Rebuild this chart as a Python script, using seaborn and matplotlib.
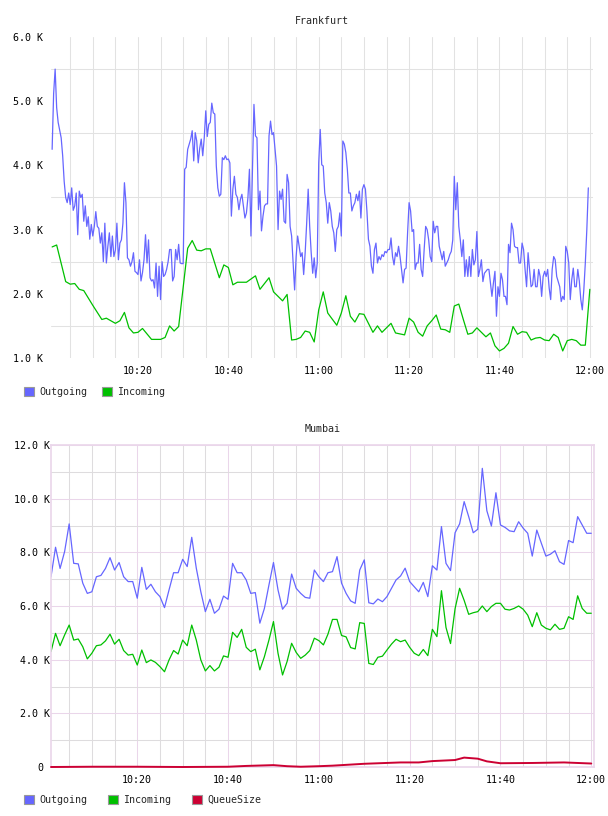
import pandas as pd
import matplotlib
matplotlib.use("Agg")
import matplotlib.pyplot as plt
import matplotlib.dates as mdates
import matplotlib.patches as mpatches
from matplotlib.ticker import FixedLocator, FuncFormatter
import seaborn as sns

# Values in thousands (K)
# Frankfurt outgoing: one sample every 20 s starting 10:01:00
fra_out = [
    4.25, 5.12, 5.50, 4.90, 4.67, 4.55, 4.43, 4.15, 3.75, 3.50,
    3.42, 3.57, 3.39, 3.65, 3.30, 3.37, 3.57, 2.92, 3.60, 3.50,
    3.55, 3.13, 3.37, 3.05, 3.20, 2.85, 3.08, 2.90, 3.05, 3.28,
    3.05, 3.02, 2.79, 2.95, 2.50, 3.10, 2.48, 2.74, 2.95, 2.58,
    2.90, 2.58, 2.68, 3.10, 2.53, 2.79, 2.84, 3.10, 3.73, 3.42,
    2.56, 2.53, 2.43, 2.50, 2.64, 2.35, 2.33, 2.30, 2.53, 2.20,
    2.33, 2.53, 2.92, 2.48, 2.84, 2.25, 2.20, 2.22, 2.09, 2.48,
    1.96, 2.43, 1.91, 2.50, 2.27, 2.30, 2.38, 2.50, 2.69, 2.69,
    2.20, 2.27, 2.69, 2.53, 2.77, 2.48, 2.47, 2.47, 3.94, 3.97,
    4.25, 4.33, 4.41, 4.54, 4.07, 4.51, 4.38, 4.04, 4.27, 4.41,
    4.15, 4.43, 4.85, 4.45, 4.64, 4.67, 4.97, 4.82, 4.80, 3.99,
    3.65, 3.52, 3.55, 4.12, 4.09, 4.15, 4.09, 4.10, 4.04, 3.21,
    3.63, 3.83, 3.55, 3.50, 3.31, 3.47, 3.55, 3.37, 3.18, 3.26,
    3.50, 3.94, 2.90, 3.90, 4.95, 4.46, 4.43, 3.31, 3.60, 2.98,
    3.21, 3.37, 3.40, 3.40, 4.46, 4.69, 4.48, 4.51, 4.25, 3.99,
    3.00, 3.60, 3.47, 3.63, 3.13, 3.10, 3.86, 3.73, 3.05, 2.90,
    2.48, 2.06, 2.58, 2.90, 2.74, 2.58, 2.64, 2.30, 2.64, 3.10,
    3.63, 3.05, 2.64, 2.32, 2.56, 2.25, 2.48, 4.04, 4.56, 4.01,
    3.99, 3.57, 3.42, 3.10, 3.42, 3.29, 3.05, 2.95, 2.66, 3.00,
    3.05, 3.26, 2.90, 4.38, 4.33, 4.20, 3.94, 3.57, 3.57, 3.29,
    3.37, 3.42, 3.55, 3.45, 3.60, 3.18, 3.63, 3.70, 3.63, 3.29,
    2.85, 2.74, 2.43, 2.32, 2.69, 2.79, 2.48, 2.58, 2.53, 2.61,
    2.58, 2.66, 2.64, 2.69, 2.69, 2.87, 2.58, 2.45, 2.64, 2.58,
    2.74, 2.58, 2.38, 2.17, 2.38, 2.40, 2.95, 3.42, 3.29, 2.97,
    3.00, 2.38, 2.48, 2.48, 2.77, 2.38, 2.27, 2.69, 3.05, 3.00,
    2.84, 2.58, 2.50, 3.13, 2.95, 3.05, 3.05, 2.74, 2.64, 2.53,
    2.66, 2.43, 2.48, 2.53, 2.61, 2.66, 2.84, 3.83, 3.31, 3.73,
    3.05, 2.84, 2.58, 2.84, 2.27, 2.53, 2.27, 2.58, 2.27, 2.69,
    2.45, 2.53, 2.97, 2.27, 2.38, 2.53, 2.19, 2.32, 2.35, 2.38,
    2.38, 2.17, 1.96, 2.17, 2.35, 1.65, 2.11, 1.96, 2.32, 2.22,
    1.96, 1.96, 1.83, 2.77, 2.64, 3.10, 3.00, 2.74, 2.72, 2.72,
    2.48, 2.48, 2.79, 2.69, 2.38, 2.11, 2.64, 2.38, 2.11, 2.14,
    2.38, 2.11, 2.11, 2.38, 2.27, 1.96, 2.27, 2.35, 2.27, 2.38,
    2.09, 1.91, 2.38, 2.58, 2.53, 2.27, 2.19, 2.11, 1.88, 1.96,
    1.91, 2.74, 2.66, 2.48, 1.91, 2.22, 2.40, 2.11, 2.11, 2.38,
    2.20, 1.91, 1.75, 2.06, 2.48, 3.00, 3.65,
]

# Frankfurt incoming: minutes after 10:00 and value
fra_in_min = [1, 2, 4, 5, 6, 7, 8, 10, 12, 13, 15, 16, 17, 18, 19, 20, 21, 23, 25, 26,
              27, 28, 29, 31, 32, 33, 34, 35, 36, 38, 39, 40, 41, 42, 44, 46, 47, 49, 50, 52,
              53, 54, 55, 56, 57, 58, 59, 60, 61, 62, 64, 65, 66, 67, 68, 69, 70, 72, 73, 74,
              76, 77, 79, 80, 81, 82, 83, 84, 85, 86, 87, 88, 89, 90, 91, 92, 93, 94, 95, 96,
              97, 98, 99, 100, 101, 102, 103, 104, 105, 106, 107, 108, 109, 110, 111, 112, 113,
              114, 115, 116, 117, 118, 119, 120]
fra_in = [2.73, 2.76, 2.19, 2.15, 2.16, 2.07, 2.05, 1.82, 1.60, 1.62, 1.54, 1.58, 1.71, 1.47,
          1.39, 1.40, 1.46, 1.29, 1.29, 1.32, 1.50, 1.42, 1.49, 2.71, 2.83, 2.68, 2.67, 2.70,
          2.70, 2.25, 2.45, 2.41, 2.14, 2.18, 2.18, 2.28, 2.07, 2.25, 2.03, 1.89, 1.99, 1.28,
          1.29, 1.32, 1.42, 1.40, 1.25, 1.75, 2.03, 1.70, 1.51, 1.70, 1.97, 1.65, 1.56, 1.69,
          1.68, 1.40, 1.50, 1.40, 1.54, 1.39, 1.36, 1.62, 1.56, 1.40, 1.34, 1.50, 1.58, 1.67,
          1.45, 1.44, 1.40, 1.81, 1.84, 1.60, 1.37, 1.39, 1.47, 1.40, 1.33, 1.39, 1.19, 1.11,
          1.15, 1.23, 1.49, 1.37, 1.41, 1.40, 1.28, 1.31, 1.32, 1.28, 1.27, 1.37, 1.32, 1.11,
          1.27, 1.29, 1.27, 1.20, 1.20, 2.07]

# Mumbai: one sample per minute from 10:01 to 12:00
mum_out = [
    7.09, 8.19, 7.40, 8.03, 9.06, 7.59, 7.57, 6.85, 6.47, 6.53,
    7.09, 7.14, 7.40, 7.80, 7.34, 7.62, 7.09, 6.91, 6.91, 6.29,
    7.44, 6.62, 6.81, 6.53, 6.35, 5.94, 6.60, 7.24, 7.24, 7.74,
    7.47, 8.56, 7.41, 6.53, 5.79, 6.25, 5.73, 5.88, 6.37, 6.25,
    7.59, 7.24, 7.24, 6.97, 6.47, 6.50, 5.36, 5.91, 6.78, 7.62,
    6.60, 5.88, 6.10, 7.19, 6.66, 6.47, 6.32, 6.29, 7.34, 7.09,
    6.91, 7.24, 7.28, 7.84, 6.85, 6.47, 6.19, 6.10, 7.34, 7.72,
    6.12, 6.08, 6.26, 6.16, 6.35, 6.66, 6.97, 7.12, 7.41, 6.91,
    6.72, 6.53, 6.88, 6.35, 7.50, 7.34, 8.96, 7.59, 7.32, 8.73,
    9.06, 9.89, 9.33, 8.73, 8.86, 11.13, 9.55, 8.98, 10.22, 9.02,
    8.93, 8.80, 8.77, 9.14, 8.90, 8.71, 7.86, 8.83, 8.34, 7.86,
    7.93, 8.06, 7.65, 7.55, 8.44, 8.36, 9.33, 9.02, 8.71, 8.71,
]
mum_in = [
    4.30, 4.98, 4.52, 4.92, 5.29, 4.73, 4.77, 4.48, 4.03, 4.24,
    4.52, 4.55, 4.70, 4.95, 4.58, 4.76, 4.34, 4.17, 4.20, 3.80,
    4.36, 3.89, 3.99, 3.90, 3.74, 3.55, 3.99, 4.34, 4.21, 4.73,
    4.52, 5.29, 4.73, 3.99, 3.58, 3.78, 3.58, 3.72, 4.14, 4.09,
    5.02, 4.83, 5.13, 4.46, 4.30, 4.39, 3.62, 4.11, 4.73, 5.42,
    4.24, 3.43, 3.93, 4.61, 4.27, 4.05, 4.17, 4.34, 4.80, 4.71,
    4.55, 4.95, 5.50, 5.50, 4.90, 4.85, 4.45, 4.40, 5.38, 5.35,
    3.86, 3.82, 4.09, 4.13, 4.36, 4.58, 4.76, 4.67, 4.73, 4.46,
    4.24, 4.15, 4.38, 4.15, 5.13, 4.86, 6.57, 5.20, 4.60, 5.90,
    6.66, 6.21, 5.69, 5.75, 5.79, 6.00, 5.79, 5.98, 6.10, 6.10,
    5.88, 5.85, 5.91, 6.00, 5.88, 5.66, 5.23, 5.75, 5.29, 5.17,
    5.11, 5.32, 5.13, 5.17, 5.60, 5.50, 6.38, 5.91, 5.73, 5.73,
]
mum_q_min = [1, 10, 20, 30, 40, 44, 50, 53, 56, 60, 63, 70, 78, 82, 85, 90, 92, 95, 97,
             100, 107, 114, 120]
mum_q = [0.0, 0.01, 0.01, 0.0, 0.01, 0.04, 0.07, 0.03, 0.01, 0.03, 0.05, 0.12, 0.17, 0.17,
         0.22, 0.26, 0.35, 0.31, 0.21, 0.14, 0.15, 0.17, 0.13]

BLUE = "#6666ff"
GREEN = "#00c000"
RED = "#cc0033"
GREY_GRID = "#e2e2e2"
PINK_GRID = "#ead6ea"
MINOR_GRID = "#dedcde"
FS = 7.2

sns.set_style("white")
plt.rcParams["font.family"] = ["DejaVu Sans Mono", "DejaVu Sans"]
plt.rcParams["font.size"] = FS

t0 = pd.Timestamp("2024-01-01 10:00")


def at_minutes(mins):
    return t0 + pd.to_timedelta(mins, unit="m")


def k_label(v, _pos):
    if abs(v) < 1e-9:
        return "0 "
    return f"{v:.1f} K"


def time_axis(ax, start, end):
    ax.set_xlim(at_minutes(start), at_minutes(end))
    ax.xaxis.set_major_locator(mdates.MinuteLocator(byminute=[0, 20, 40]))
    ax.xaxis.set_minor_locator(mdates.MinuteLocator(byminute=range(0, 60, 5)))
    ax.xaxis.set_major_formatter(mdates.DateFormatter("%H:%M"))
    ax.set_xlabel("")
    ax.set_ylabel("")
    ax.set_axisbelow(True)


fig = plt.figure(figsize=(6.08, 8.16), dpi=100)

# --- Frankfurt ---
ax1 = fig.add_axes([51 / 608, 1 - 358 / 816, 542 / 608, 321 / 816])
fra_out_t = pd.date_range(at_minutes(1), periods=len(fra_out), freq="20s")
sns.lineplot(x=fra_out_t, y=fra_out, ax=ax1, color=BLUE, lw=0.9, legend=False)
sns.lineplot(x=at_minutes(fra_in_min), y=fra_in, ax=ax1, color=GREEN, lw=0.9, legend=False)
time_axis(ax1, 0.75, 120.7)
ax1.set_ylim(1, 6)
ax1.yaxis.set_major_locator(FixedLocator([1, 2, 3, 4, 5, 6]))
ax1.yaxis.set_minor_locator(FixedLocator([1.5, 2.5, 3.5, 4.5, 5.5]))
ax1.yaxis.set_major_formatter(FuncFormatter(k_label))
ax1.grid(which="both", axis="x", color=GREY_GRID, lw=0.75)
ax1.grid(which="minor", axis="y", color=GREY_GRID, lw=0.75)
ax1.grid(which="major", axis="y", visible=False)
for s in ax1.spines.values():
    s.set_visible(False)
ax1.tick_params(axis="both", which="both", length=0, labelsize=FS, colors="black")
ax1.tick_params(axis="x", pad=6)
ax1.tick_params(axis="y", pad=5.5)
ax1.set_title("Frankfurt", fontsize=FS, pad=9)

# --- Mumbai ---
ax2 = fig.add_axes([51 / 608, 1 - 767 / 816, 543 / 608, 322 / 816])
mum_t = pd.date_range(at_minutes(1), periods=len(mum_out), freq="1min")
sns.lineplot(x=mum_t, y=mum_out, ax=ax2, color=BLUE, lw=0.9, legend=False)
sns.lineplot(x=mum_t, y=mum_in, ax=ax2, color=GREEN, lw=0.9, legend=False)
sns.lineplot(x=at_minutes(mum_q_min), y=mum_q, ax=ax2, color=RED, lw=1.4, legend=False)
# queue line sits on the bottom edge: keep it above the frame and unclipped
ax2.lines[-1].set_clip_on(False)
ax2.lines[-1].set_zorder(3)
time_axis(ax2, 1.0, 120.6)
ax2.set_ylim(0, 12)
ax2.yaxis.set_major_locator(FixedLocator(range(0, 13, 2)))
ax2.yaxis.set_minor_locator(FixedLocator(range(1, 12, 2)))
ax2.yaxis.set_major_formatter(FuncFormatter(k_label))
ax2.grid(which="major", color=PINK_GRID, lw=0.75)
ax2.grid(which="minor", color=MINOR_GRID, lw=0.75)
for s in ax2.spines.values():
    s.set_color(PINK_GRID)
    s.set_linewidth(1.2)
ax2.tick_params(axis="both", which="both", length=0, labelsize=FS, colors="black")
ax2.tick_params(axis="x", pad=6)
ax2.tick_params(axis="y", pad=1)
ax2.set_title("Mumbai", fontsize=FS, pad=9)


def add_legend(names, colors, y, colspace):
    handles = [mpatches.Patch(facecolor=c, edgecolor="#999999", lw=0.8) for c in colors]
    fig.legend(handles, names, loc="center left", bbox_to_anchor=(24 / 608, y),
               ncol=len(names), frameon=False, fontsize=FS, handlelength=1.0,
               handleheight=1.0, handletextpad=0.5, columnspacing=colspace,
               borderpad=0, borderaxespad=0)


add_legend(["Outgoing", "Incoming"], [BLUE, GREEN], 1 - 392 / 816, 1.5)
add_legend(["Outgoing", "Incoming", "QueueSize"], [BLUE, GREEN, RED], 1 - 800 / 816, 2.1)

fig.savefig("out.png", dpi=100)
